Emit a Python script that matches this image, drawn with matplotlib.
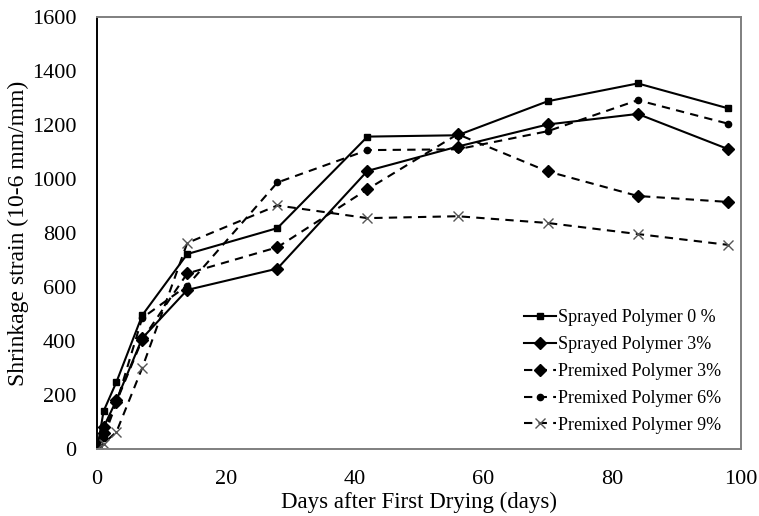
import matplotlib
matplotlib.use("Agg")
import matplotlib.pyplot as plt

plt.rcParams['font.family'] = ['Liberation Serif', 'DejaVu Serif']

days = [0, 1, 3, 7, 14, 28, 42, 56, 70, 84, 98]

sprayed_0 = [0, 140, 248, 495, 722, 818, 1157, 1162, 1288, 1354, 1262]
sprayed_3 = [0, 80, 181, 410, 589, 668, 1030, 1120, 1202, 1241, 1111]
premixed_3 = [0, 60, 175, 405, 650, 747, 962, 1166, 1028, 937, 915]
premixed_6 = [0, 42, 170, 485, 605, 987, 1107, 1110, 1177, 1292, 1205]
premixed_9 = [0, 20, 63, 300, 763, 902, 855, 862, 837, 796, 756]

labels = ["Sprayed Polymer 0 %", "Sprayed Polymer 3%", "Premixed Polymer 3%",
          "Premixed Polymer 6%", "Premixed Polymer 9%"]

fig = plt.figure(figsize=(7.59, 5.16), dpi=100)
ax = fig.add_axes([0.128, 0.130, 0.848, 0.837])

ax.plot(days, sprayed_0, '-', color='black', lw=1.5, marker='s', ms=5, label=labels[0])
ax.plot(days, sprayed_3, '-', color='black', lw=1.5, marker='D', ms=6, label=labels[1])
ax.plot(days, premixed_3, '--', color='black', lw=1.5, marker='D', ms=6, dashes=(4, 3), label=labels[2])
ax.plot(days, premixed_6, '--', color='black', lw=1.5, marker='o', ms=4.5, dashes=(4, 3), label=labels[3])
ax.plot(days, premixed_9, '--', color='black', lw=1.5, marker='x', ms=7, mec='#555555', mew=1,
        dashes=(4, 3), label=labels[4])

ax.set_xlim(0, 100)
ax.set_ylim(0, 1600)
ax.set_xticks(range(0, 101, 20))
ax.set_yticks(range(0, 1601, 200))
ax.tick_params(length=0, labelsize=16, pad=15)
for s in ['top', 'right', 'bottom']:
    ax.spines[s].set_color('#7f7f7f')
ax.spines['left'].set_color('black')
for s in ax.spines.values():
    s.set_linewidth(1.4)

ax.set_xlabel("Days after First Drying (days)", fontsize=16.5, labelpad=2)
ax.set_ylabel("Shrinkage strain (10-6 mm/mm)", fontsize=17, labelpad=2)

ax.legend(loc='lower left', frameon=False, fontsize=13, handlelength=1.8,
          handletextpad=0.1, labelspacing=0.55, borderpad=0, borderaxespad=0,
          bbox_to_anchor=(0.663, 0.035))

fig.savefig("out.png", dpi=100)
